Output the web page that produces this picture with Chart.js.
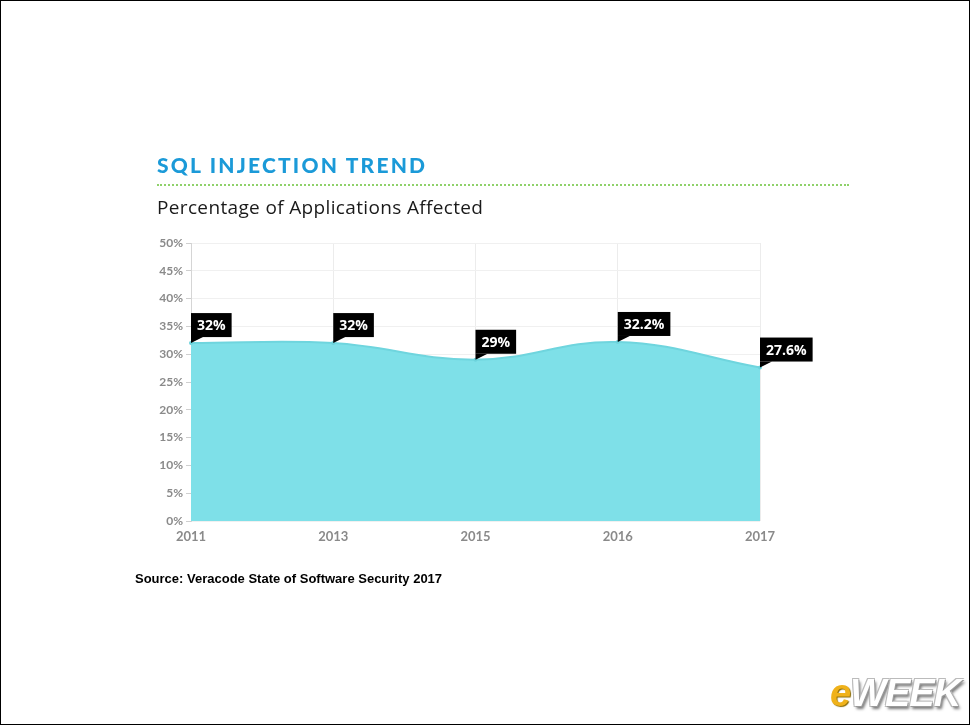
<!DOCTYPE html>
<html>
<head>
<meta charset="utf-8">
<script src="https://cdn.jsdelivr.net/npm/chart.js@4.4.1/dist/chart.umd.min.js"></script>
<style>
  html, body { margin: 0; padding: 0; }
  body { width: 970px; height: 725px; position: relative; background: #fff; overflow: hidden; }
  #frame { position: absolute; left: 0; top: 0; width: 968px; height: 723px; border: 1px solid #000; pointer-events: none; }
  #wrap { position: absolute; left: 0; top: 0; width: 970px; height: 725px; }
  .title { position: absolute; left: 157px; top: 152px; font-family: Lato, sans-serif; font-weight: 900; font-size: 21px; letter-spacing: 2.2px; color: #1b9ad8; }
  .dots { position: absolute; left: 157px; top: 184px; width: 692px; height: 0; border-top: 2px dotted #8fd16a; }
  .subtitle { position: absolute; left: 157px; top: 194px; font-family: "Open Sans", sans-serif; font-weight: 500; font-size: 19px; letter-spacing: 0.35px; color: #1a1a1a; }
  .source { position: absolute; left: 135px; top: 571px; font-family: "Liberation Sans", Arial, sans-serif; font-weight: bold; font-size: 13px; color: #000; }
  .logo { position: absolute; left: 830px; top: 672px; font-family: "Liberation Sans", Arial, sans-serif; font-weight: bold; font-style: italic; font-size: 38px; letter-spacing: -1px; }
  .logo .e { color: #f0b21a; text-shadow: 1px 1px 1px #8a6a00; }
  .logo .w { color: #fff; text-shadow: 1px 1px 0 #999, -1px -1px 0 #bbb, 1px -1px 0 #bbb, -1px 1px 0 #bbb, 2px 3px 3px #777; }
</style>
</head>
<body>
<div id="wrap"><canvas id="c" width="970" height="725"></canvas></div>
<div class="title">SQL INJECTION TREND</div>
<div class="dots"></div>
<div class="subtitle">Percentage of Applications Affected</div>
<div class="source">Source: Veracode State of Software Security 2017</div>
<div class="logo"><span class="e">e</span><span class="w">WEEK</span></div>
<div id="frame"></div>
<script>
const categories = ["2011", "2013", "2015", "2016", "2017"];
const values = [32, 32, 29, 32.2, 27.6];
const pointLabels = ["32%", "32%", "29%", "32.2%", "27.6%"];
const yTicks = [0, 5, 10, 15, 20, 25, 30, 35, 40, 45, 50];

const calloutPlugin = {
  id: 'callouts',
  afterDatasetsDraw(chart) {
    const ctx = chart.ctx;
    const meta = chart.getDatasetMeta(0);
    ctx.save();
    ctx.font = 'bold 14px "Open Sans", sans-serif';
    meta.data.forEach((pt, i) => {
      const txt = pointLabels[i];
      const w = ctx.measureText(txt).width + 12;
      const h = 24;
      const x = pt.x, y = pt.y;
      const bottom = y - 6;
      ctx.fillStyle = '#000';
      ctx.fillRect(x, bottom - h, w, h);
      ctx.beginPath();
      ctx.moveTo(x, bottom);
      ctx.lineTo(x + 12, bottom);
      ctx.lineTo(x, y);
      ctx.closePath();
      ctx.fill();
      ctx.fillStyle = '#fff';
      ctx.textBaseline = 'middle';
      ctx.textAlign = 'left';
      ctx.fillText(txt, x + 6, bottom - h / 2 + 1);
    });
    ctx.restore();
  }
};

new Chart(document.getElementById('c'), {
  type: 'line',
  data: {
    labels: categories,
    datasets: [{
      data: values,
      fill: 'origin',
      backgroundColor: '#7ee0e8',
      borderColor: '#6fd5de',
      borderWidth: 2,
      tension: 0.4,
      pointRadius: 2,
      pointBackgroundColor: '#6cd3dc',
      pointBorderWidth: 0
    }]
  },
  options: {
    responsive: false,
    animation: false,
    layout: { padding: { left: 141, right: 210, top: 243, bottom: 174 } },
    plugins: { legend: { display: false }, tooltip: { enabled: false } },
    scales: {
      x: {
        offset: false,
        grid: { color: '#ececec', tickLength: 0, drawTicks: false },
        border: { display: false },
        ticks: { color: '#8a8a8a', font: { family: 'Lato', weight: 'bold', size: 13 }, padding: 8, maxRotation: 0 },
        afterFit(s) { s.height = 30; }
      },
      y: {
        min: 0, max: 50,
        afterBuildTicks(s) { s.ticks = yTicks.map(v => ({ value: v })); },
        grid: { color: '#f0f0f0', tickLength: 5, tickColor: '#cfcfcf' },
        border: { color: '#d5d5d5', width: 1 },
        ticks: { color: '#8a8a8a', font: { family: 'Lato', weight: 'bold', size: 12 }, padding: 3, callback: v => v + '%' },
        afterFit(s) { s.width = 50; }
      }
    }
  },
  plugins: [calloutPlugin]
});
</script>
</body>
</html>
